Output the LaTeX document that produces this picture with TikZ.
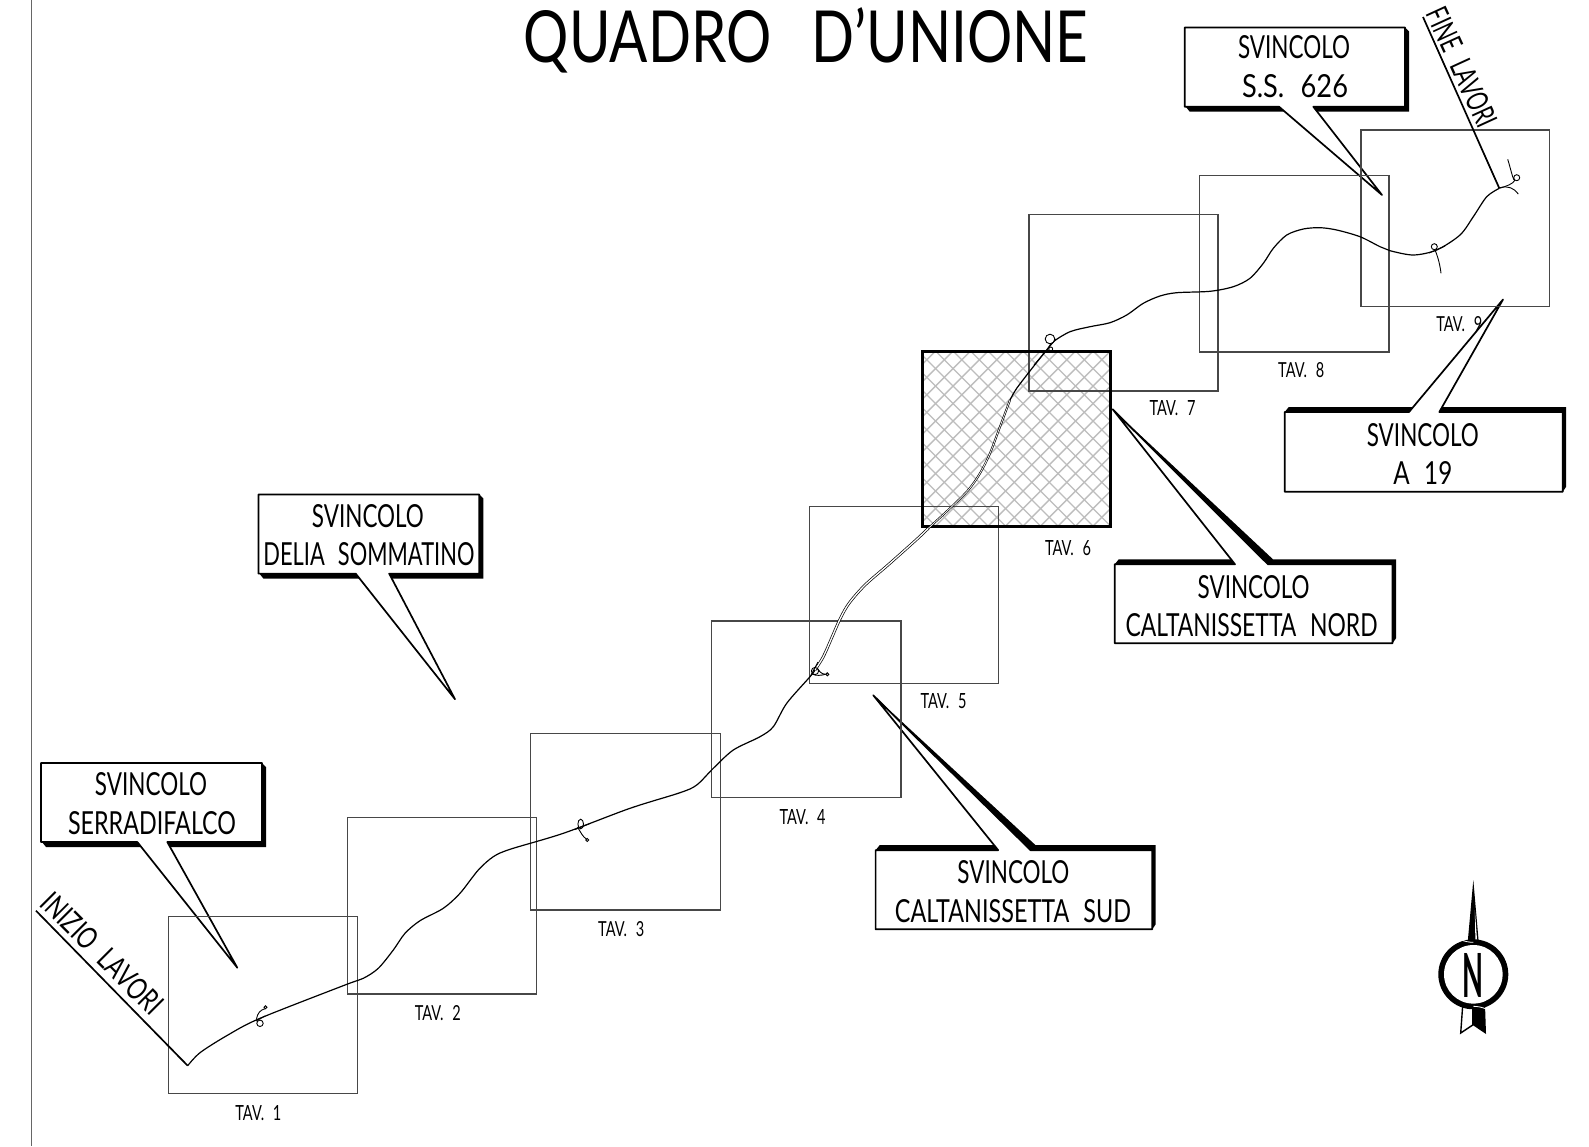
\documentclass[tikz,border=0pt]{standalone}
\usepackage{graphicx}
\usepackage{fontspec}
\setmainfont{Lato}
\newcommand{\txtfit}[3]{\resizebox{#1pt}{#2pt}{#3}}
\newcommand{\gap}{\hspace{.6em}}
\tikzset{
  frameline/.style={draw=black!72,line width=1.2pt},
  callline/.style={draw=black,fill=white,line width=1.7pt,line join=round},
  road/.style={draw=black,line width=1.2pt},
  roadtwin/.style={draw=black,line width=.7pt,double=white,double distance=1.3pt},
  roadtwinb/.style={draw=black,line width=.65pt,double=white,double distance=.7pt},
  ramp/.style={draw=black,line width=.9pt},
  lab/.style={inner sep=0pt,outer sep=0pt},
  hatchline/.style={draw=black!26,line width=1.4pt}
}
% L R T B pl pr tipx tipy : shadow falls below and right, pointer at the bottom
\newcommand{\calldown}[8]{%
  \fill[black] ({#1+1},#4) -- ({#1+5},{#4+5}) -- ({#2+4},{#4+5}) -- ({#2+4},{#3+4}) -- (#2,#3) -- (#2,#4) -- cycle;
  \path[callline] (#1,#3) -- (#2,#3) -- (#2,#4) -- (#6,#4) -- (#7,#8) -- (#5,#4) -- (#1,#4) -- cycle;}
% shadow falls above and right, pointer at the top
\newcommand{\callup}[8]{%
  \fill[black] (#1,#3) -- ({#1+4},{#3-5}) -- ({#2+3.5},{#3-5}) -- ({#2+3.5},{#4-5}) -- (#2,#4) -- (#2,#3) -- cycle;
  \path[callline] (#1,#4) -- (#1,#3) -- (#5,#3) -- (#7,#8) -- (#6,#3) -- (#2,#3) -- (#2,#4) -- cycle;}
\begin{document}
\begin{tikzpicture}[x=1pt,y=-1pt]
\useasboundingbox (0,0) rectangle (1589,1146);
\fill[white] (0,0) rectangle (1589,1146);
% margin line
\draw[draw=black!60,line width=1.5pt] (31.6,0) -- (31.6,1146);
% callouts
\calldown{1184.7}{1405}{27.4}{106.7}{1279}{1313.3}{1382}{195}
\calldown{258.4}{479.3}{494.5}{573.6}{355.7}{389.2}{455}{699.2}
\calldown{41}{262}{763}{842}{137.3}{167.3}{237.3}{967.7}
\callup{1284.7}{1562.7}{412}{491.7}{1409}{1439.3}{1503}{299.5}
\callup{1114.7}{1392.5}{564.3}{643.3}{1235}{1268}{1112.7}{409.3}
\fill[black] (1268,564.3) -- (1112.7,409.3) -- (1273,559.3) -- cycle;
\callup{875.6}{1152.2}{850.2}{929.3}{998.2}{1030.6}{873.3}{695.3}
\fill[black] (1030.6,850.2) -- (873.3,695.3) -- (1035.6,845.2) -- cycle;
% hatched sheet
\begin{scope}
  \clip (922.3,351) rectangle (1110.7,526.7);
  \foreach \k in {-12,...,24}{
    \draw[hatchline] ({918+17.5*\k},351) -- ({918+17.5*\k-176},527);
    \draw[hatchline] ({918+17.5*\k},351) -- ({918+17.5*\k+176},527);
  }
\end{scope}
% sheets
\draw[frameline] (168.3,916.7) rectangle (357.3,1093.4);
\draw[frameline] (347.3,817.3) rectangle (536.7,994);
\draw[frameline] (530.7,733.3) rectangle (720.1,910);
\draw[frameline] (711.7,621) rectangle (901,797.7);
\draw[frameline] (809.3,506.6) rectangle (998.7,683.3);
\draw[frameline] (1029,214.3) rectangle (1218,391);
\draw[frameline] (1199.7,175.3) rectangle (1389,352);
\draw[frameline] (1361,130) rectangle (1549.7,306.7);
\draw[draw=black,line width=3pt] (922.3,351) rectangle (1110.7,526.7);
% leader lines
\draw[draw=black,line width=1.7pt] (36,910.7) -- (187.7,1065.7);
\draw[draw=black,line width=1.7pt] (1423,17) -- (1499.3,188.3);
% road
\draw[road] plot[smooth,tension=.5] coordinates {(187.7,1065.7) (200,1052.7) (226.7,1035.7) (260,1018.3) (345,985) (363.3,978.3) (378.3,968.3) (393.3,950) (405,933.3) (420,920.7) (443.3,908.3) (460,893.3) (478.3,870) (493.3,856.7) (510,849.3) (563.3,833.3) (630,808.3) (680,792.7) (696.7,785) (713.3,768.3) (733.3,750) (760,736.7) (773.3,726.7) (786.7,703.3) (810,676.7) (815,670)};
\draw[roadtwin] plot[smooth,tension=.5] coordinates {(815,670) (823.3,656.7) (831.5,638.3) (840,619) (849,603.3) (865,585) (888.3,564.7) (916,540) (928.3,528.3)};
\draw[roadtwinb] plot[smooth,tension=.5] coordinates {(928.3,528.3) (950,508.3) (968.3,490) (980,473.3) (990,453.3) (1000,426.7) (1010,400)};
\draw[road] plot[smooth,tension=.5] coordinates {(1010,400) (1016.7,388.3) (1033.3,366.7) (1046.7,350) (1053.3,341.7) (1070,331.7) (1090,326.7) (1110,322.7) (1126.7,315) (1143.3,303.3) (1160,296) (1176.7,292.7) (1210,291.3) (1233.3,286.7) (1250,278.3) (1263.3,263.3) (1273.3,248.3) (1286.7,235) (1303.3,229) (1320,227.7) (1336.7,230) (1360,236.7) (1380,246.7) (1390,250.7) (1413.3,255) (1436.7,250) (1460,235) (1473.3,216.7) (1486.7,196.7) (1499.3,188.3)};
% junctions
\draw[ramp] (260,1023.3) circle (3.2);
\draw[ramp] (256.5,1019.5) .. controls (257.5,1012) and (261,1010) .. (265,1008.7);
\draw[ramp] (265.5,1007.3) circle (1.5);
\draw[ramp] (256,1021) -- (265,1016);
\draw[ramp] (580.7,824) ellipse (2.8 and 4.8);
\draw[ramp] (577.5,827) .. controls (581,833) and (583,837) .. (586.7,839.2);
\draw[ramp] (587.2,840) circle (1.5);
\draw[ramp] (575,829.5) -- (590,823.5);
\draw[ramp] (815,671) circle (3.6);
\draw[ramp] (811,675) -- (818,662);
\draw[ramp] (812,674) .. controls (816,676) and (821,675.5) .. (825.5,674.3);
\draw[ramp] (817,668) .. controls (819,671) and (821,674) .. (825.5,674.3);
\draw[ramp] (827.3,674.3) circle (1.5);
\draw[ramp,fill=white] (1050,339) circle (4.8);
\draw[ramp] (1050.7,349) circle (2);
\draw[ramp] (1034,365) -- (1056,339);
\draw[ramp,fill=white] (1434.3,246.7) circle (3);
\draw[ramp] (1435,250) .. controls (1438,257) and (1440,265) .. (1441,273.3);
\draw[ramp] (1429,253) -- (1445,246);
\draw[ramp] (1507.7,159.3) .. controls (1511,170) and (1512,176) .. (1514,180);
\draw[ramp] (1499.3,188.3) .. controls (1507,186) and (1513,184) .. (1515,180);
\draw[ramp] (1516.7,177.7) circle (3);
\draw[ramp] (1500,187.7) .. controls (1508,185.5) and (1514,188) .. (1518.3,194);
% north arrow
\fill[black] (1473.3,880) -- (1467.7,942) -- (1478.7,942) -- cycle;
\fill[white] (1474.8,910) -- (1475.4,942) -- (1477.2,942) -- cycle;
\draw[draw=black,line width=1.4pt,fill=white] (1462.7,1005) -- (1460.7,1033) -- (1472.7,1025) -- (1472.7,1005);
\fill[black] (1472.7,1005) -- (1485,1005) -- (1486,1034) -- (1472.7,1025) -- cycle;
\fill[black] (1473.3,974.3) circle (35);
\draw[draw=white,line width=.8pt] (1473.3,942.3) arc (90:180:32);
\draw[draw=white,line width=.8pt] (1473.3,1006.3) arc (-90:0:32);
\fill[white] (1473.3,974.3) circle (29.3);
\node[lab] (northN) at (1473.3,975.3) {\txtfit{21}{44}{\bfseries N}};
% texts
\node[lab,anchor=base] (title) at (806,62) {\txtfit{564}{52}{QUADRO\hspace{.7em}D\smash{’}UNIONE}};
\node[lab] (a1) at (1294,47.6) {\txtfit{112}{23}{SVINCOLO}};
\node[lab] (a2) at (1295,86.1) {\txtfit{106}{23}{S.S.\gap 626}};
\node[lab] (b1) at (367.9,515.8) {\txtfit{112}{23}{SVINCOLO}};
\node[lab] (b2) at (368.9,554.3) {\txtfit{211}{23}{DELIA\gap SOMMATINO}};
\node[lab] (c1) at (151,784.4) {\txtfit{112}{23}{SVINCOLO}};
\node[lab] (c2) at (152,822.9) {\txtfit{168}{23}{SERRADIFALCO}};
\node[lab] (d1) at (1253.6,586.7) {\txtfit{112}{23}{SVINCOLO}};
\node[lab] (d2) at (1251.6,625.3) {\txtfit{252}{23}{CALTANISSETTA\gap NORD}};
\node[lab] (e1) at (1013.4,872.5) {\txtfit{112}{23}{SVINCOLO}};
\node[lab] (e2) at (1012.9,911) {\txtfit{236}{23}{CALTANISSETTA\gap SUD}};
\node[lab] (f1) at (1422.8,434.7) {\txtfit{112}{23}{SVINCOLO}};
\node[lab] (f2) at (1422.8,473.3) {\txtfit{59}{23}{A\gap 19}};
\node[lab,rotate=-45] (ini) at (102.5,953.3) {\txtfit{158}{22}{INIZIO\gap LAVORI}};
\node[lab,rotate=-65.4] (fin) at (1462,67.3) {\txtfit{128}{22}{FINE\gap LAVORI}};
\node[lab] (t1) at (258.4,1112.8) {\txtfit{46}{15}{TAV.\gap 1}};
\node[lab] (t2) at (437.8,1013.4) {\txtfit{46}{15}{TAV.\gap 2}};
\node[lab] (t3) at (621.2,929.3) {\txtfit{46}{15}{TAV.\gap 3}};
\node[lab] (t4) at (802.6,816.8) {\txtfit{46}{15}{TAV.\gap 4}};
\node[lab] (t5) at (943.5,701.3) {\txtfit{46}{15}{TAV.\gap 5}};
\node[lab] (t6) at (1068,548.2) {\txtfit{46}{15}{TAV.\gap 6}};
\node[lab] (t7) at (1172.5,408.4) {\txtfit{46}{15}{TAV.\gap 7}};
\node[lab] (t8) at (1301.2,369.9) {\txtfit{46}{15}{TAV.\gap 8}};
\node[lab] (t9) at (1459.3,324.3) {\txtfit{46}{15}{TAV.\gap 9}};
\end{tikzpicture}
\end{document}
